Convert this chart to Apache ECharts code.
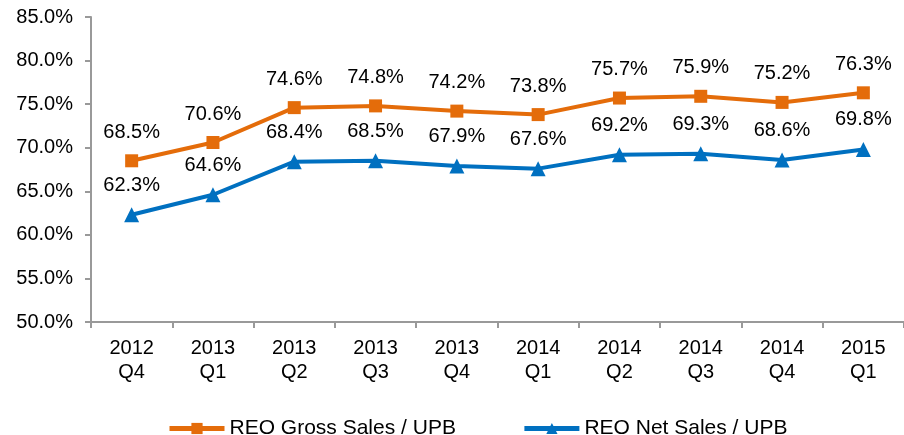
<!DOCTYPE html>
<html><head><meta charset="utf-8">
<script src="https://cdn.jsdelivr.net/npm/echarts@6/dist/echarts.min.js"></script>
<style>html,body{margin:0;padding:0;background:#fff}#c{width:904px;height:435px}</style>
</head><body><div id="c"></div>
<script>
const categories = ["2012\nQ4","2013\nQ1","2013\nQ2","2013\nQ3","2013\nQ4","2014\nQ1","2014\nQ2","2014\nQ3","2014\nQ4","2015\nQ1"];
const grossSales = [68.5,70.6,74.6,74.8,74.2,73.8,75.7,75.9,75.2,76.3];
const netSales = [62.3,64.6,68.4,68.5,67.9,67.6,69.2,69.3,68.6,69.8];
const seriesNames = ["REO Gross Sales / UPB","REO Net Sales / UPB"];

const font = "'Liberation Sans', Arial, sans-serif";
const chart = echarts.init(document.getElementById('c'), null, {renderer:'canvas'});
const lbl = {show:true, position:'top', distance:12, fontSize:20, color:'#000', fontFamily:font, formatter: p => p.value.toFixed(1) + '%'};
chart.setOption({
  animation:false,
  grid:{left:91, top:17, width:816, height:305, containLabel:false},
  legend:{left:162, top:413, itemGap:66, itemWidth:55, itemHeight:14,
    lineStyle:{width:5},
    textStyle:{fontSize:21, color:'#000', fontFamily:font}, data:seriesNames},
  xAxis:{type:'category', data:categories, boundaryGap:true,
    axisLine:{lineStyle:{color:'#999', width:2}},
    axisTick:{show:true, length:6, lineStyle:{color:'#999', width:2}},
    axisLabel:{fontSize:20, color:'#000', fontFamily:font, lineHeight:24, margin:14}},
  yAxis:{type:'value', min:50, max:85, interval:5,
    axisLine:{show:true, lineStyle:{color:'#999', width:2}},
    axisTick:{show:true, length:6, lineStyle:{color:'#999', width:2}},
    splitLine:{show:false},
    axisLabel:{fontSize:20, color:'#000', fontFamily:font, margin:18, formatter: v => v.toFixed(1) + '%'}},
  series:[
    {name:seriesNames[0], type:'line', data:grossSales,
      symbol:'rect', symbolSize:13, lineStyle:{color:'#E46C0A', width:4}, itemStyle:{color:'#E46C0A'}, label:lbl},
    {name:seriesNames[1], type:'line', data:netSales,
      symbol:'triangle', symbolSize:15, lineStyle:{color:'#0070C0', width:4}, itemStyle:{color:'#0070C0'}, label:lbl}
  ]
});
</script></body></html>
